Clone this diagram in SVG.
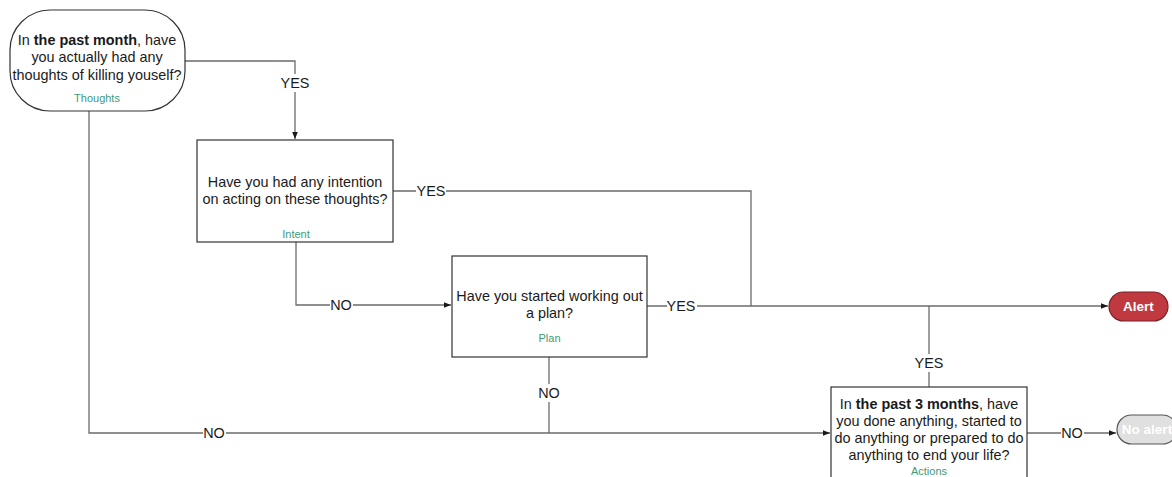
<svg xmlns="http://www.w3.org/2000/svg" width="1172" height="477" viewBox="0 0 1172 477">
  <style>
    .node { fill: #ffffff; stroke: #333333; stroke-width: 1.2; }
    .q { font-family: "Liberation Sans", Arial, sans-serif; font-size: 14.4px; fill: #1a1a1a; text-anchor: middle; }
    .b { font-weight: bold; }
    .tag { font-family: "Liberation Sans", Arial, sans-serif; font-size: 11px; fill: #3f9a7a; text-anchor: middle; }
    .edge { fill: none; stroke: #6b6b6b; stroke-width: 1.3; }
    .lbl { font-family: "Liberation Sans", Arial, sans-serif; font-size: 14.4px; fill: #1a1a1a; text-anchor: middle; }
    .lblbg { fill: #ffffff; stroke: none; }
    .term { font-family: "Liberation Sans", Arial, sans-serif; font-size: 13.5px; font-weight: bold; fill: #ffffff; text-anchor: middle; }
  </style>
  <defs>
    <marker id="arr" viewBox="0 0 10 10" refX="10" refY="5" markerWidth="7" markerHeight="7" markerUnits="userSpaceOnUse" orient="auto">
      <path d="M0,1 L10,5 L0,9 Z" fill="#1a1a1a"/>
    </marker>
  </defs>
  <rect width="1172" height="477" fill="#ffffff"/>

  <g id="connectors">
    <!-- Thoughts -> Intent (YES) -->
    <path class="edge" d="M185,61 H295 V139" marker-end="url(#arr)"/>
    <!-- Intent -> Alert line (YES) -->
    <path class="edge" d="M393,191 H751 V306"/>
    <!-- Intent -> Plan (NO) -->
    <path class="edge" d="M296,242 V305 H451" marker-end="url(#arr)"/>
    <!-- Plan -> Alert (YES) -->
    <path class="edge" d="M647,306 H1108" marker-end="url(#arr)"/>
    <!-- Plan -> Actions (NO) -->
    <path class="edge" d="M549,357 V433"/>
    <!-- Thoughts -> Actions (NO) -->
    <path class="edge" d="M89,111 V433 H830" marker-end="url(#arr)"/>
    <!-- Actions -> Alert (YES) -->
    <path class="edge" d="M929,387 V306"/>
    <!-- Actions -> No alert (NO) -->
    <path class="edge" d="M1027,433 H1116" marker-end="url(#arr)"/>

    <!-- labels -->
    <rect class="lblbg" x="281" y="74" width="28" height="18"/>
    <text class="lbl" x="295" y="88">YES</text>
    <rect class="lblbg" x="416" y="182" width="30" height="18"/>
    <text class="lbl" x="431" y="196">YES</text>
    <rect class="lblbg" x="330" y="296" width="23" height="18"/>
    <text class="lbl" x="341" y="310">NO</text>
    <rect class="lblbg" x="667" y="297" width="30" height="18"/>
    <text class="lbl" x="681" y="311">YES</text>
    <rect class="lblbg" x="538" y="384" width="23" height="18"/>
    <text class="lbl" x="549" y="398">NO</text>
    <rect class="lblbg" x="203" y="424" width="23" height="18"/>
    <text class="lbl" x="214" y="438">NO</text>
    <rect class="lblbg" x="914" y="354" width="30" height="18"/>
    <text class="lbl" x="929" y="368">YES</text>
    <rect class="lblbg" x="1061" y="424" width="23" height="18"/>
    <text class="lbl" x="1072" y="438">NO</text>
  </g>

  <g id="thoughts">
    <rect class="node" x="10" y="10" width="175" height="101" rx="40" ry="40"/>
    <text class="q" x="97" y="45">In <tspan class="b">the past month</tspan>, have</text>
    <text class="q" x="97" y="62">you actually had any</text>
    <text class="q" x="97" y="80">thoughts of killing youself?</text>
    <text class="tag" x="97" y="102">Thoughts</text>
  </g>

  <g id="intent">
    <rect class="node" x="197" y="140" width="196" height="102"/>
    <text class="q" x="295" y="187">Have you had any intention</text>
    <text class="q" x="295" y="204">on acting on these thoughts?</text>
    <text class="tag" x="296" y="238">Intent</text>
  </g>

  <g id="plan">
    <rect class="node" x="452" y="256" width="195" height="101"/>
    <text class="q" x="549.5" y="301">Have you started working out</text>
    <text class="q" x="549.5" y="318">a plan?</text>
    <text class="tag" x="549.5" y="342">Plan</text>
  </g>

  <g id="actions">
    <rect class="node" x="831" y="387" width="196" height="110"/>
    <text class="q" x="929" y="409">In <tspan class="b">the past 3 months</tspan>, have</text>
    <text class="q" x="929" y="426">you done anything, started to</text>
    <text class="q" x="929" y="443">do anything or prepared to do</text>
    <text class="q" x="929" y="460">anything to end your life?</text>
    <text class="tag" x="929" y="475">Actions</text>
  </g>

  <g id="alert">
    <rect x="1109" y="292" width="59" height="29" rx="14.5" ry="14.5" fill="#c0393f" stroke="#7a2327" stroke-width="1.2"/>
    <text class="term" x="1138.5" y="311">Alert</text>
  </g>

  <g id="no-alert">
    <rect x="1117" y="415" width="60" height="29" rx="14.5" ry="14.5" fill="#e0e0e0" stroke="#555555" stroke-width="1.2"/>
    <text class="term" x="1147" y="434">No alert</text>
  </g>
</svg>
